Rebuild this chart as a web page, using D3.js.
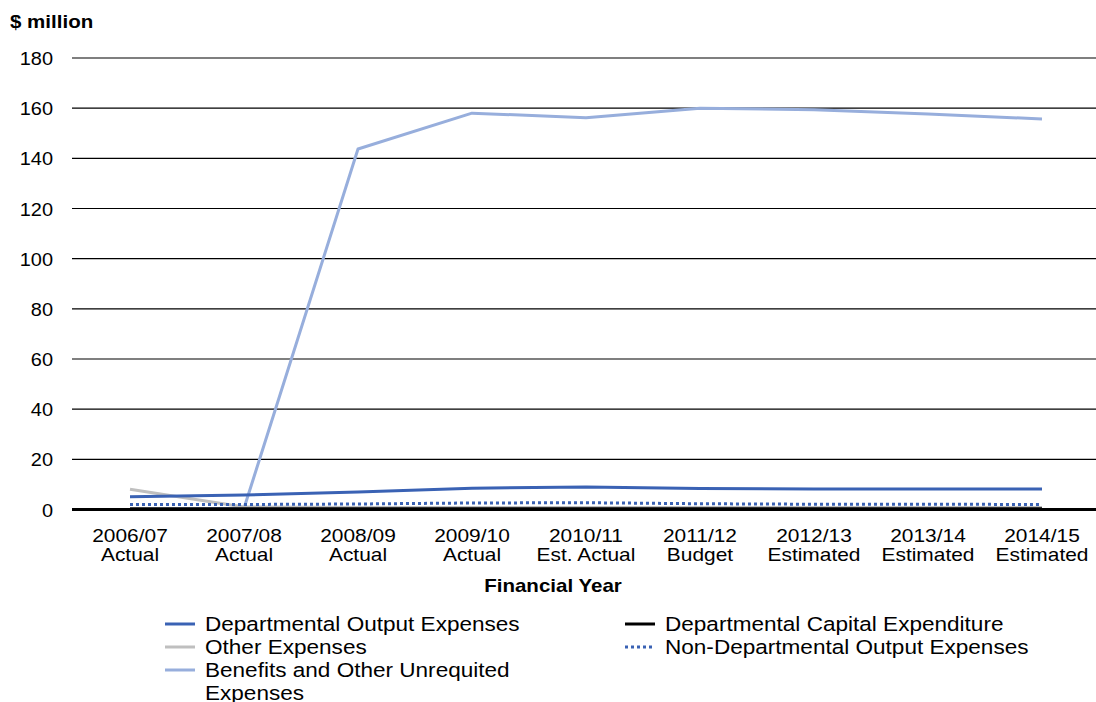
<!DOCTYPE html>
<html><head><meta charset="utf-8">
<script src="https://cdn.jsdelivr.net/npm/d3@7"></script>
<style>body{margin:0;background:#fff}svg{display:block}text{font-family:"Liberation Sans",Arial,sans-serif}</style>
</head><body><svg id="c" width="1096" height="702"></svg>
<script>
const categories = ["2006/07","2007/08","2008/09","2009/10","2010/11","2011/12","2012/13","2013/14","2014/15"];
const categorySub = ["Actual","Actual","Actual","Actual","Est. Actual","Budget","Estimated","Estimated","Estimated"];
const deptOutput = [5.1,5.8,7.0,8.5,9.0,8.4,8.2,8.2,8.2];
const deptCapital = [0.3,0.3,0.3,0.3,0.3,0.3,0.3,0.3,0.3];
const otherExp = [8.1,1.0,0.8,0.8,0.8,0.8,0.8,0.8,0.8];
const nonDeptOutput = [2.0,2.0,2.2,2.6,2.7,2.3,2.1,2.1,2.0];
const benefits = [0.0,0.5,143.7,158.0,156.2,160.0,159.4,157.7,155.7];
const yTicks = [0,20,40,60,80,100,120,140,160,180];

const series = [
  {name:"Benefits and Other Unrequited Expenses", vals:benefits, color:"#97aedc", dash:null},
  {name:"Other Expenses", vals:otherExp, color:"#bfbfbf", dash:null},
  {name:"Departmental Output Expenses", vals:deptOutput, color:"#3a62b4", dash:null},
  {name:"Non-Departmental Output Expenses", vals:nonDeptOutput, color:"#3a62b4", dash:"3,3"},
  {name:"Departmental Capital Expenditure", vals:deptCapital, color:"#000", dash:null}
];
const svg = d3.select("#c");
const x = d3.scaleBand().domain(categories).range([73,1099]);
const y = d3.scaleLinear().domain([0,180]).range([509.5,58]);
const cx = c => x(c)+x.bandwidth()/2;

function stretch(sel,k){
  sel.each(function(){
    const L = this.getComputedTextLength();
    this.setAttribute("textLength", L*k);
    this.setAttribute("lengthAdjust","spacingAndGlyphs");
  });
}

// gridlines
svg.append("g").selectAll("line").data(yTicks.filter(t=>t>0)).join("line")
  .attr("x1",72).attr("x2",1096).attr("y1",d=>y(d)).attr("y2",d=>y(d))
  .attr("stroke","#000").attr("stroke-width",1.2);
// y labels
stretch(svg.append("g").selectAll("text").data(yTicks).join("text")
  .attr("x",53).attr("y",d=>y(d)+7).attr("text-anchor","end")
  .attr("font-size",19).text(d=>d), 1.05);

// lines
const line = d3.line().x((d,i)=>cx(categories[i])).y(d=>y(d));
series.forEach(s=>{
  svg.append("path").attr("d",line(s.vals)).attr("fill","none")
    .attr("stroke",s.color).attr("stroke-width",3)
    .attr("stroke-dasharray",s.dash).attr("stroke-linejoin","round");
});
// zero axis
svg.append("line").attr("x1",72).attr("x2",1096).attr("y1",y(0)).attr("y2",y(0))
  .attr("stroke","#000").attr("stroke-width",3);

// x labels
stretch(svg.append("g").selectAll("text").data(categories).join("text")
  .attr("text-anchor","middle").attr("font-size",19)
  .attr("x",d=>cx(d)).attr("y",542).text(d=>d), 1.1);
stretch(svg.append("g").selectAll("text").data(categorySub).join("text")
  .attr("text-anchor","middle").attr("font-size",19)
  .attr("x",(d,i)=>cx(categories[i])).attr("y",561).text(d=>d), 1.1);

stretch(svg.append("text").attr("x",553).attr("y",592).attr("text-anchor","middle")
  .attr("font-size",19).attr("font-weight","bold").text("Financial Year"), 1.08);
stretch(svg.append("text").attr("x",10).attr("y",28)
  .attr("font-size",19).attr("font-weight","bold").text("$ million"), 1.08);

// legend
const legend = [
  {s:series[2], x:165, y:624, lines:["Departmental Output Expenses"]},
  {s:series[4], x:625, y:624, lines:["Departmental Capital Expenditure"]},
  {s:series[1], x:165, y:647, lines:["Other Expenses"]},
  {s:series[3], x:625, y:647, lines:["Non-Departmental Output Expenses"]},
  {s:series[0], x:165, y:670, lines:["Benefits and Other Unrequited","Expenses"]}
];
legend.forEach(l=>{
  svg.append("line").attr("x1",l.x).attr("x2",l.x+30).attr("y1",l.y).attr("y2",l.y)
    .attr("stroke",l.s.color).attr("stroke-width",3).attr("stroke-dasharray",l.s.dash);
  l.lines.forEach((ln,i)=>{
    stretch(svg.append("text").attr("font-size",20.5).attr("x",l.x+40).attr("y",l.y+7+i*23).text(ln), 1.1);
  });
});
</script></body></html>
